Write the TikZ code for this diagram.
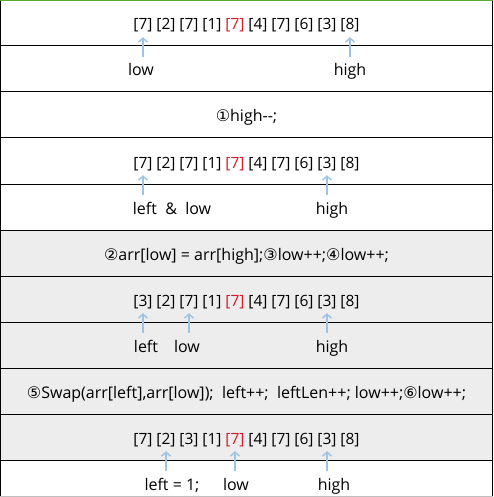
\documentclass[tikz,border=0pt]{standalone}
\usepackage{fontspec}
\setmainfont{Open Sans}
\newfontfamily\circfont{DejaVu Sans}
\usetikzlibrary{arrows.meta,positioning}
\definecolor{ptrblue}{RGB}{157,195,230}
\definecolor{rowgray}{RGB}{237,237,237}
\definecolor{pivred}{RGB}{215,25,40}
\definecolor{topgreen}{RGB}{95,170,50}
\tikzset{>=Latex, line/.style={line width=1pt},
cell/.style={anchor=base, inner xsep=0pt, inner ysep=4pt, text depth=3pt, font=\fontsize{15.5}{18}\selectfont},
lab/.style={anchor=base, inner sep=0pt, inner ysep=7pt, text height=12pt, font=\fontsize{16}{19}\selectfont},
ptr/.style={draw=ptrblue, line width=1.4pt, -{Straight Barb[length=4pt,width=9pt]}}}
\newcommand\cnum[1]{{\circfont #1}}
% one row of the array, 5th entry is the pivot
\newcommand\arrline[3]{%
  \foreach \v [count=\i from 0] in {#3} {
    \ifnum\i=4 \def\col{pivred}\else\def\col{black}\fi
    \node[cell, text=\col] (#1\i) at ({143+23*\i},#2) {[\v]};
  }}

\begin{document}
\begin{tikzpicture}[x=1pt,y=-1pt]
\useasboundingbox (0,0) rectangle (493,497);
% shaded rows
\fill[rowgray] (0,230) rectangle (493,460);
\foreach \y in {46,92,...,460} {
  \draw[line] (0,\y) -- (493,\y);
}
\draw[line] (0.5,0) -- (0.5,497);
\draw[line] (492.5,0) -- (492.5,497);
\draw[line, topgreen] (0,0.5) -- (493,0.5);
\draw[line, black!25] (0,496.5) -- (493,496.5);

% arrays
\arrline{a}{30}{7,2,7,1,7,4,7,6,3,8}
\arrline{b}{168}{7,2,7,1,7,4,7,6,3,8}
\arrline{c}{306}{3,2,7,1,7,4,7,6,3,8}
\arrline{d}{444}{7,2,3,1,7,4,7,6,3,8}

% pointers
\node[lab] (low1) at (141,76) {low};
\node[lab] (high1) at (350,76) {high};
\node[lab] (lfl2) at (172,214) {left~~\&~~low};
\node[lab] (high2) at (332,214) {high};
\node[lab] (left3) at (146,352) {left};
\node[lab] (low3) at (187,352) {low};
\node[lab] (high3) at (332,352) {high};
\node[lab] (left4) at (172,490) {left = 1;};
\node[lab] (low4) at (236,490) {low};
\node[lab] (high4) at (334,490) {high};

\draw[ptr] (low1.north -| a0) -- (a0.south);
\draw[ptr] (high1.north -| a9) -- (a9.south);
\draw[ptr] (lfl2.north -| b0) -- (b0.south);
\draw[ptr] (high2.north -| b8) -- (b8.south);
\draw[ptr] (left3.north -| c0) -- (c0.south);
\draw[ptr] (low3.north -| c2) -- (c2.south);
\draw[ptr] (high3.north -| c8) -- (c8.south);
\draw[ptr] (left4.north -| d1) -- (d1.south);
\draw[ptr] (low4.north -| d4) -- (d4.south);
\draw[ptr] (high4.north -| d8) -- (d8.south);

% steps
\node[lab] (step1) at (246.5,122) {\cnum{①}high-{}-;};
\node[lab] (step2) at (246.5,260) {\cnum{②}arr[low] = arr[high];\cnum{③}low++;\cnum{④}low++;};
\node[lab] (step3) at (246.5,398) {\cnum{⑤}Swap(arr[left],arr[low]);~~left++;~~leftLen++; low++;\cnum{⑥}low++;};
\end{tikzpicture}
\end{document}
